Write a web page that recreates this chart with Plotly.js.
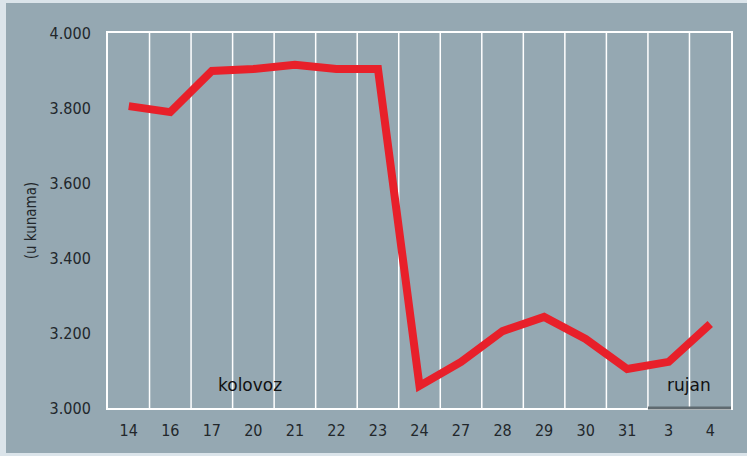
<!DOCTYPE html>
<html>
<head>
<meta charset="utf-8">
<script src="https://cdn.plot.ly/plotly-3.0.1.min.js"></script>
<style>
html,body{margin:0;padding:0;background:#dbe4ea;width:747px;height:456px;overflow:hidden;}
#chart{position:absolute;left:6px;top:3px;width:741px;height:450px;}
</style>
</head>
<body>
<div id="chart"></div>
<script>
// Data
const days = ["14","16","17","20","21","22","23","24","27","28","29","30","31","3","4"];
const values = [3805, 3789, 3899, 3904, 3915, 3904, 3904, 3059, 3123, 3205, 3243, 3184, 3104, 3123, 3224];
const yTicks = [3000, 3200, 3400, 3600, 3800, 4000];
const months = ["kolovoz", "rujan"];
const monthX = [2.92, 13.5];
const monthY = [3062, 3062];
const yTitle = "(u kunama)";

const idx = days.map((d, i) => i);
const narrow = "DejaVu Sans Condensed, DejaVu Sans, sans-serif";

const trace = {
  x: idx,
  y: values,
  type: "scatter",
  mode: "lines",
  line: {color: "#e8202a", width: 8},
  hoverinfo: "skip"
};

const layout = {
  width: 741,
  height: 450,
  margin: {l: 102, r: 16, t: 30, b: 45},
  paper_bgcolor: "#95a8b2",
  plot_bgcolor: "#95a8b2",
  separators: ",.",
  showlegend: false,
  xaxis: {
    range: [-0.5, days.length - 0.5],
    tickvals: idx,
    ticktext: days,
    showgrid: false,
    zeroline: false,
    showline: true,
    mirror: true,
    linecolor: "#ffffff",
    linewidth: 2,
    ticks: "",
    ticklabelstandoff: 7,
    tickfont: {family: narrow, size: 16, color: "#22272b"}
  },
  yaxis: {
    range: [3000, 4000],
    tickvals: yTicks,
    tickformat: ",d",
    separatethousands: true,
    showgrid: false,
    zeroline: false,
    showline: true,
    mirror: true,
    linecolor: "#ffffff",
    linewidth: 2,
    ticks: "",
    ticklabelstandoff: 12,
    tickfont: {family: narrow, size: 16, color: "#22272b"},
    title: {text: yTitle, font: {family: narrow, size: 15, color: "#22272b"}, standoff: 9}
  },
  shapes: [],
  annotations: months.map((m, i) => ({
    x: monthX[i], y: monthY[i], xref: "x", yref: "y",
    text: m, showarrow: false,
    font: {family: "DejaVu Sans, Noto Sans, sans-serif", size: 17, color: "#111111"}
  }))
};

// vertical separators at category boundaries
for (let i = 0; i < days.length - 1; i++) {
  layout.shapes.push({
    type: "line", xref: "x", yref: "paper",
    x0: i + 0.5, x1: i + 0.5, y0: 0, y1: 1,
    line: {color: "#ffffff", width: 1.5},
    layer: "below"
  });
}
// darker baseline under September part
layout.shapes.push({
  type: "line", xref: "x", yref: "paper",
  x0: days.indexOf("3") - 0.5, x1: days.length - 0.5, y0: 0, y1: 0,
  line: {color: "#5f6a70", width: 3},
  layer: "above"
});

Plotly.newPlot("chart", [trace], layout, {displayModeBar: false, staticPlot: true});
</script>
</body>
</html>
